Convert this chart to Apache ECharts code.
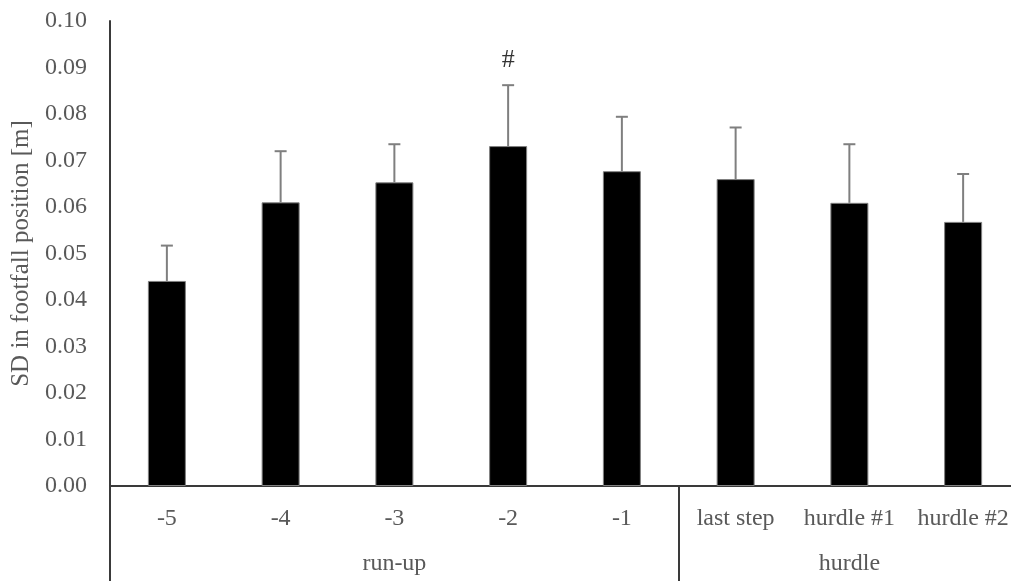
<!DOCTYPE html>
<html>
<head>
<meta charset="utf-8">
<script src="https://cdn.jsdelivr.net/npm/echarts@6/dist/echarts.min.js"></script>
<style>
html,body{margin:0;padding:0;background:#fff;}
#chart{width:1011px;height:581px;}
</style>
</head>
<body>
<div id="chart"></div>
<script>
const categories = ['-5', '-4', '-3', '-2', '-1', 'last step', 'hurdle #1', 'hurdle #2'];
const groupLabels = ['', '', 'run-up', '', '', '', 'hurdle', ''];
const means = [0.0441, 0.0610, 0.0653, 0.0731, 0.0677, 0.0660, 0.0609, 0.0568];
const sds = [0.0076, 0.0110, 0.0082, 0.0131, 0.0117, 0.0111, 0.0126, 0.0103];
const marks = ['', '', '', '#', '', '', '', ''];
const yTicks = [0, 0.01, 0.02, 0.03, 0.04, 0.05, 0.06, 0.07, 0.08, 0.09, 0.10];

const FONT = 'Liberation Serif';
const TXT = '#595959';
const chart = echarts.init(document.getElementById('chart'));

const errData = means.map((m, i) => [i, m, m + sds[i], marks[i]]);

chart.setOption({
  animation: false,
  backgroundColor: '#fff',
  grid: { left: 110, top: 21, width: 910, height: 465, containLabel: false, outerBoundsMode: 'none' },
  xAxis: [
    {
      type: 'category',
      data: categories,
      position: 'bottom',
      axisLine: { show: true, lineStyle: { color: '#3a3a3a', width: 2 } },
      axisTick: {
        show: true,
        interval: (i) => i === 0 || i === 5,
        length: 95,
        lineStyle: { color: '#3a3a3a', width: 2 }
      },
      axisLabel: { fontFamily: FONT, fontSize: 24, color: TXT, margin: 21, interval: 0 }
    },
    {
      type: 'category',
      data: groupLabels,
      position: 'bottom',
      offset: 66,
      axisLine: { show: false },
      axisTick: { show: false },
      axisLabel: { fontFamily: FONT, fontSize: 24, color: TXT, margin: 0, interval: 0 }
    }
  ],
  yAxis: {
    type: 'value',
    min: 0,
    max: 0.1,
    interval: 0.01,
    name: 'SD in footfall position [m]',
    nameLocation: 'middle',
    nameGap: 74,
    nameTextStyle: { fontFamily: FONT, fontSize: 25, color: TXT },
    axisLine: { show: true, lineStyle: { color: '#3a3a3a', width: 2 } },
    axisTick: { show: false },
    splitLine: { show: false },
    axisLabel: {
      fontFamily: FONT, fontSize: 24, color: TXT, margin: 23,
      formatter: (v) => v.toFixed(2)
    }
  },
  series: [
    {
      type: 'bar',
      data: means,
      barWidth: 38,
      itemStyle: { color: '#000', borderColor: '#808080', borderWidth: 1 }
    },
    {
      type: 'custom',
      data: errData,
      z: 5,
      renderItem: function (params, api) {
        const x = api.value(0);
        const top = api.coord([x, api.value(2)]);
        const base = api.coord([x, api.value(1)]);
        const half = 6;
        const children = [
          { type: 'line', shape: { x1: top[0], y1: base[1], x2: top[0], y2: top[1] },
            style: { stroke: '#7f7f7f', lineWidth: 2 } },
          { type: 'line', shape: { x1: top[0] - half, y1: top[1], x2: top[0] + half, y2: top[1] },
            style: { stroke: '#7f7f7f', lineWidth: 2 } }
        ];
        const mk = errData[params.dataIndex][3];
        if (mk) {
          children.push({
            type: 'text',
            style: { text: mk, x: top[0], y: top[1] - 25, align: 'center', verticalAlign: 'middle',
              font: '26px "Liberation Serif"', fill: '#333333' }
          });
        }
        return { type: 'group', children: children };
      }
    }
  ]
});
</script>
</body>
</html>
